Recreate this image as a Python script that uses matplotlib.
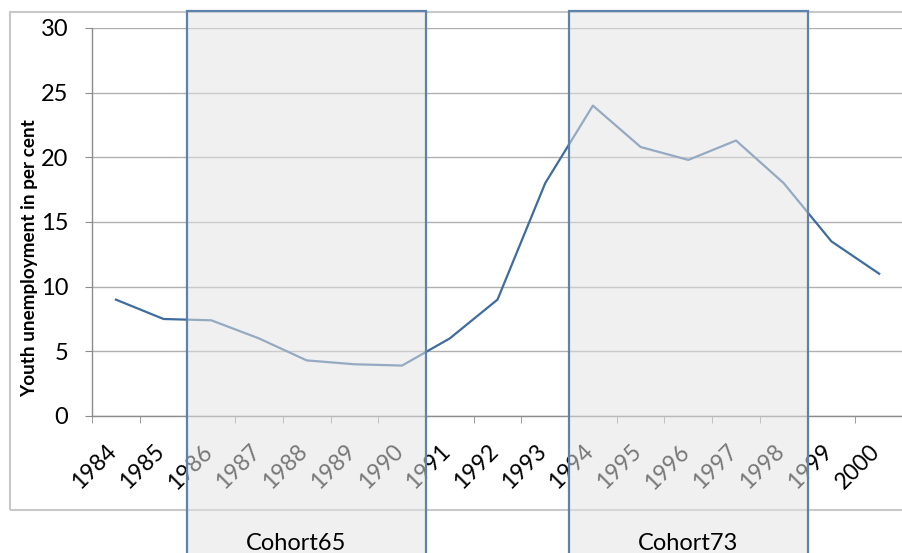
#!/usr/bin/env python3
"""Youth unemployment 1984-2000 with shaded cohort windows."""
import matplotlib
matplotlib.use("Agg")
import matplotlib.pyplot as plt
import matplotlib.transforms as mtransforms
from matplotlib.patches import Rectangle

plt.rcParams["font.family"] = ["Lato", "DejaVu Sans"]

# ----- data -------------------------------------------------------------
years = ["1984", "1985", "1986", "1987", "1988", "1989", "1990", "1991",
         "1992", "1993", "1994", "1995", "1996", "1997", "1998", "1999", "2000"]
unemployment = [9.0, 7.5, 7.4, 6.0, 4.3, 4.0, 3.9, 6.0,
                9.0, 18.0, 24.0, 20.8, 19.8, 21.3, 18.0, 13.5, 11.0]
cohort_names = ["Cohort65", "Cohort73"]
cohort_first = ["1986", "1994"]
cohort_last = ["1990", "1998"]

LINE = "#3f6c9e"
GRID = "#b0b0b0"
EDGE = "#5d82ab"

W, H = 903, 553
fig = plt.figure(figsize=(W / 100, H / 100), dpi=100)
ax = fig.add_axes([92 / W, 1 - 416 / H, (903 - 92) / W, (416 - 28) / H])

x = list(range(len(years)))
ax.plot(x, unemployment, color=LINE, linewidth=1.6, zorder=3)

ax.set_xlim(-0.5, len(years) - 0.5)
ax.set_ylim(0, 30)
ax.set_yticks(range(0, 31, 5))
ax.yaxis.grid(True, color=GRID, linewidth=1)
ax.set_axisbelow(True)
for s in ("top", "right"):
    ax.spines[s].set_visible(False)
for s in ("left", "bottom"):
    ax.spines[s].set_color("#8c8c8c")
    ax.spines[s].set_linewidth(1)

ax.tick_params(axis="y", length=5, color="#8c8c8c", pad=12, labelsize=17)

# category labels at centres, tick marks at the boundaries
ax.set_xticks(x)
ax.set_xticks([i - 0.5 for i in range(len(years) + 1)], minor=True)
ax.tick_params(axis="x", which="major", length=0, pad=18, labelsize=16.5)
ax.tick_params(axis="x", which="minor", length=5, color="#8c8c8c")
ax.set_xticklabels(years, rotation=45, ha="right")
shift = mtransforms.ScaledTranslation(5 / 100, 0, fig.dpi_scale_trans)
for lab in ax.get_xticklabels():
    lab.set_transform(lab.get_transform() + shift)

fig.text(30 / W, 1 - 258 / H, "Youth unemployment in per cent",
         rotation=90, ha="center", va="center", fontsize=13.6,
         fontweight="bold")

# outer chart frame (open on the right)
frame = Rectangle((10 / W, 1 - 510 / H), 1.2, (510 - 12) / H,
                  transform=fig.transFigure, fill=False,
                  edgecolor="#c8c8c8", linewidth=1.5, zorder=0.5)
fig.add_artist(frame)

# cohort windows: x in data, y in figure
blend = mtransforms.blended_transform_factory(ax.transData, fig.transFigure)
label_dx = [-11, 0]  # pixel nudge of the cohort captions
for name, a, b, dx in zip(cohort_names, cohort_first, cohort_last, label_dx):
    x0 = years.index(a) - 0.5
    x1 = years.index(b) + 0.5
    y0, y1 = -0.05, 1 - 11 / H
    rect = Rectangle((x0, y0), x1 - x0, y1 - y0, transform=blend,
                     facecolor=(0.89, 0.89, 0.89, 0.53),
                     edgecolor=EDGE, linewidth=1.6, zorder=2)
    fig.add_artist(rect)
    nudge = mtransforms.ScaledTranslation(dx / 100, 0, fig.dpi_scale_trans)
    fig.text((x0 + x1) / 2, 1 - 550 / H, name, transform=blend + nudge,
             ha="center", va="baseline", fontsize=17, zorder=3)

fig.savefig("out.png", dpi=100)
